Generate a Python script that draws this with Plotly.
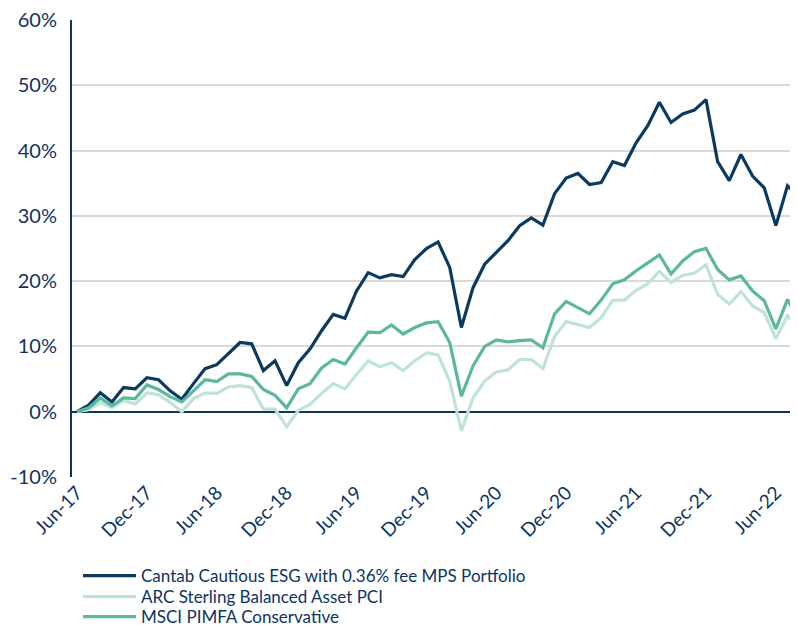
import plotly.graph_objects as go

months = ["Jun-17","Jul-17","Aug-17","Sep-17","Oct-17","Nov-17","Dec-17",
          "Jan-18","Feb-18","Mar-18","Apr-18","May-18","Jun-18","Jul-18","Aug-18","Sep-18","Oct-18","Nov-18","Dec-18",
          "Jan-19","Feb-19","Mar-19","Apr-19","May-19","Jun-19","Jul-19","Aug-19","Sep-19","Oct-19","Nov-19","Dec-19",
          "Jan-20","Feb-20","Mar-20","Apr-20","May-20","Jun-20","Jul-20","Aug-20","Sep-20","Oct-20","Nov-20","Dec-20",
          "Jan-21","Feb-21","Mar-21","Apr-21","May-21","Jun-21","Jul-21","Aug-21","Sep-21","Oct-21","Nov-21","Dec-21",
          "Jan-22","Feb-22","Mar-22","Apr-22","May-22","Jun-22","Jul-22","Aug-22"]

cantab = [0.0, 1.0, 2.9, 1.5, 3.7, 3.5, 5.2,
          4.9, 3.2, 1.9, 4.3, 6.6, 7.2, 8.9, 10.6, 10.4, 6.3, 7.8, 4.0,
          7.5, 9.6, 12.4, 14.9, 14.3, 18.5, 21.3, 20.5, 21.0, 20.7, 23.3, 25.0,
          26.0, 22.1, 12.9, 19.0, 22.6, 24.4, 26.2, 28.5, 29.7, 28.6, 33.4, 35.8,
          36.5, 34.8, 35.1, 38.3, 37.7, 41.2, 43.8, 47.4, 44.3, 45.6, 46.2, 47.8,
          38.3, 35.4, 39.4, 36.1, 34.3, 28.5, 34.6, 32.8]

arc = [0.0, 0.3, 1.4, 0.6, 1.7, 1.2, 2.9,
       2.6, 1.4, 0.0, 2.0, 2.9, 2.8, 3.8, 4.0, 3.7, 0.4, 0.4, -2.3,
       0.2, 1.1, 2.8, 4.3, 3.5, 5.7, 7.8, 6.9, 7.5, 6.3, 7.8, 9.0,
       8.7, 4.7, -2.9, 2.1, 4.7, 6.1, 6.4, 8.0, 8.0, 6.6, 11.5, 13.8,
       13.3, 12.9, 14.4, 17.1, 17.1, 18.6, 19.6, 21.5, 19.8, 20.9, 21.2, 22.5,
       18.0, 16.5, 18.4, 16.2, 15.2, 11.2, 14.7, 12.7]

msci = [0.0, 0.6, 2.1, 0.9, 2.1, 2.0, 4.1,
        3.4, 2.3, 1.5, 3.2, 4.9, 4.6, 5.8, 5.8, 5.4, 3.4, 2.5, 0.6,
        3.5, 4.3, 6.7, 8.0, 7.3, 9.8, 12.2, 12.1, 13.3, 11.9, 12.9, 13.6,
        13.8, 10.6, 2.4, 7.0, 10.0, 11.0, 10.7, 10.9, 11.0, 9.8, 15.0, 16.9,
        15.9, 15.0, 17.1, 19.6, 20.2, 21.6, 22.8, 24.0, 21.1, 23.1, 24.5, 25.0,
        21.8, 20.2, 20.8, 18.5, 17.0, 12.7, 17.2, 13.9]

tick_labels = ["Jun-17","Dec-17","Jun-18","Dec-18","Jun-19","Dec-19",
               "Jun-20","Dec-20","Jun-21","Dec-21","Jun-22"]

y_tick_vals = [-10, 0, 10, 20, 30, 40, 50, 60]
y_tick_text = ["-10%", "0%", "10%", "20%", "30%", "40%", "50%", "60%"]

series = [
    ("Cantab Cautious ESG with 0.36% fee MPS Portfolio", cantab, "#0b3a60"),
    ("ARC Sterling Balanced Asset PCI", arc, "#bfe4d7"),
    ("MSCI PIMFA Conservative", msci, "#5cb89d"),
]

navy = "#0e3463"
# page body has an 8px margin; figure is allowed to overflow the window a little
W, H = 790, 645
ML, MT = 64, 12
plot_bottom = 469
MB = H - plot_bottom
plot_h = plot_bottom - MT
legend_rows = [568, 589, 609]  # row centres, figure-local pixels
legend_names = ["legend", "legend2", "legend3"]

fig = go.Figure()
for (name, vals, col), lg in zip(series, legend_names):
    fig.add_trace(go.Scatter(x=months, y=vals, mode="lines", name=name,
                             legend=lg, line=dict(color=col, width=3.2)))

legend_common = dict(xanchor="left", yanchor="middle",
                     font=dict(family="Lato", size=17, color=navy),
                     itemwidth=53, bgcolor="rgba(0,0,0,0)")
layout_legends = {}
for lg, row in zip(legend_names, legend_rows):
    layout_legends[lg] = dict(x=(70 - ML) / 726, y=(plot_bottom - row) / plot_h,
                              **legend_common)

fig.update_layout(
    width=W, height=H,
    margin=dict(l=ML, r=0, t=MT, b=MB),
    paper_bgcolor="white", plot_bgcolor="white",
    font=dict(family="Lato", color=navy, size=17),
    showlegend=True,
    **layout_legends,
)
fig.update_xaxes(type="category", tickmode="array", tickvals=tick_labels,
                 ticktext=tick_labels, tickangle=-45,
                 tickfont=dict(family="Lato", size=19, color=navy),
                 range=[-0.43, 61.9], showgrid=False, showline=False,
                 zeroline=False, ticks="", automargin=False)
fig.update_yaxes(range=[-10, 60], tickmode="array", tickvals=y_tick_vals,
                 ticktext=y_tick_text,
                 tickfont=dict(family="Lato", size=20, color=navy),
                 showgrid=True, gridcolor="#d9d9d9", gridwidth=1.5,
                 zeroline=True, zerolinecolor=navy, zerolinewidth=2,
                 showline=True, linecolor=navy, linewidth=2, ticks="",
                 ticklabelstandoff=9, ticklabeloverflow="allow",
                 automargin=False)

fig.write_html("out.html")
